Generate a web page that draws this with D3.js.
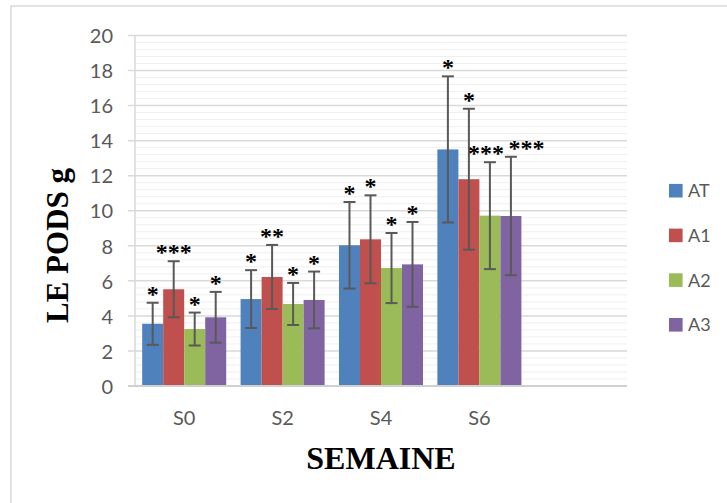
<!DOCTYPE html>
<html>
<head>
<meta charset="utf-8">
<script src="https://cdn.jsdelivr.net/npm/d3@7"></script>
<style>
  html, body { margin: 0; padding: 0; background: #fff; }
  svg { display: block; }
</style>
</head>
<body>
<script>
// ---- data ----
const categories = ["S0", "S2", "S4", "S6", ""];
const seriesNames = ["AT", "A1", "A2", "A3"];
const colors = ["#4F81BD", "#C0504D", "#9BBB59", "#8064A2"];
const AT = [3.55, 4.96, 8.03, 13.5];
const A1 = [5.52, 6.22, 8.37, 11.8];
const A2 = [3.25, 4.68, 6.73, 9.72];
const A3 = [3.92, 4.91, 6.94, 9.70];
const AT_sd = [1.20, 1.65, 2.47, 4.17];
const A1_sd = [1.60, 1.83, 2.51, 4.02];
const A2_sd = [0.94, 1.20, 2.00, 3.05];
const A3_sd = [1.45, 1.62, 2.42, 3.38];
const AT_sig = ["*", "*", "*", "*"];
const A1_sig = ["***", "**", "*", "*"];
const A2_sig = ["*", "*", "*", "***"];
const A3_sig = ["*", "*", "*", "***"];
const yTicks = [0, 2, 4, 6, 8, 10, 12, 14, 16, 18, 20];
const yTitle = "LE PODS g";
const xTitle = "SEMAINE";

const means = [AT, A1, A2, A3];
const sds = [AT_sd, A1_sd, A2_sd, A3_sd];
const sigs = [AT_sig, A1_sig, A2_sig, A3_sig];

const W = 727, H = 503;
const svg = d3.select("body").append("svg").attr("width", W).attr("height", H);

// chart border (only top and left visible)
svg.append("rect").attr("x", 11).attr("y", 6).attr("width", W + 10).attr("height", H + 10)
  .attr("fill", "none").attr("stroke", "#d9d9d9").attr("stroke-width", 1.5);

const plotL = 135, plotR = 627, plotT = 35.5, plotB = 386;

const x = d3.scaleBand().domain(categories).range([plotL, plotR])
  .paddingInner(0.146).paddingOuter(0.073);
const xs = d3.scaleBand().domain(seriesNames).range([0, x.bandwidth()]);
const y = d3.scaleLinear().domain([0, 20]).range([plotB, plotT]);

// minor gridlines
const minor = d3.range(0, 20.001, 0.4).filter(v => Math.abs(v / 2 - Math.round(v / 2)) > 1e-6);
svg.append("g").selectAll("line").data(minor).join("line")
  .attr("x1", plotL).attr("x2", plotR)
  .attr("y1", d => y(d)).attr("y2", d => y(d))
  .attr("stroke", "#efefef").attr("stroke-width", 1);

// major gridlines
svg.append("g").selectAll("line").data(yTicks.filter(d => d > 0)).join("line")
  .attr("x1", plotL - 7).attr("x2", plotR)
  .attr("y1", d => y(d)).attr("y2", d => y(d))
  .attr("stroke", "#d9d9d9").attr("stroke-width", 1.5);

// y axis line
svg.append("line").attr("x1", plotL).attr("x2", plotL).attr("y1", y(20)).attr("y2", plotB)
  .attr("stroke", "#d9d9d9").attr("stroke-width", 1.5);

// y tick labels via axis
const yAxis = d3.axisLeft(y).tickValues(yTicks).tickSize(0).tickPadding(0).tickFormat(d3.format("d"));
const ya = svg.append("g").attr("transform", `translate(${113},0)`).call(yAxis);
ya.select(".domain").remove();
ya.selectAll("text").attr("font-family", "Lato, 'Open Sans', sans-serif").attr("font-size", 20)
  .attr("fill", "#595959").attr("x", 0).attr("dy", "0.36em");

// bars
seriesNames.forEach((s, si) => {
  const g = svg.append("g");
  const data = means[si].map((v, i) => ({ cat: categories[i], v }));
  g.selectAll("rect").data(data).join("rect")
    .attr("x", d => x(d.cat) + xs(s))
    .attr("y", d => y(d.v))
    .attr("width", xs.bandwidth())
    .attr("height", d => y(0) - y(d.v))
    .attr("fill", colors[si]);
});

// x axis line
svg.append("line").attr("x1", plotL - 7).attr("x2", plotR).attr("y1", plotB).attr("y2", plotB)
  .attr("stroke", "#d0d0d0").attr("stroke-width", 2);

// error bars
const labels = [];
seriesNames.forEach((s, si) => {
  const g = svg.append("g");
  const data = means[si].map((v, i) => ({ cat: categories[i], ci: i, si, v, sd: sds[si][i], sig: sigs[si][i] }));
  const cx = d => x(d.cat) + xs(s) + xs.bandwidth() / 2;
  data.forEach(d => labels.push({ ...d, cx: cx(d), y: y(d.v + d.sd) }));
  g.selectAll("line.v").data(data).join("line").attr("class", "v")
    .attr("x1", cx).attr("x2", cx)
    .attr("y1", d => y(d.v + d.sd)).attr("y2", d => y(d.v - d.sd))
    .attr("stroke", "#595959").attr("stroke-width", 2);
  g.selectAll("line.t").data(data).join("line").attr("class", "t")
    .attr("x1", d => cx(d) - 6).attr("x2", d => cx(d) + 6)
    .attr("y1", d => y(d.v + d.sd)).attr("y2", d => y(d.v + d.sd))
    .attr("stroke", "#595959").attr("stroke-width", 2);
  g.selectAll("line.b").data(data).join("line").attr("class", "b")
    .attr("x1", d => cx(d) - 6).attr("x2", d => cx(d) + 6)
    .attr("y1", d => y(d.v - d.sd)).attr("y2", d => y(d.v - d.sd))
    .attr("stroke", "#595959").attr("stroke-width", 2);
});

// significance labels, nudged apart horizontally when neighbours collide
const starW = 11.5;
labels.sort((a, b) => a.ci - b.ci || a.si - b.si);
for (let i = 1; i < labels.length; i++) {
  const a = labels[i - 1], b = labels[i];
  if (a.ci !== b.ci) continue;
  const need = (a.sig.length + b.sig.length) * starW / 2 + 6;
  if (Math.abs(a.y - b.y) < 16 && b.cx - a.cx < need) {
    const over = need - (b.cx - a.cx);
    a.cx -= over * 0.2;
    b.cx += over * 0.8;
  }
}
svg.append("g").selectAll("text").data(labels).join("text")
  .attr("x", d => d.cx)
  .attr("y", d => d.y - 1)
  .attr("text-anchor", "middle")
  .attr("font-family", "'Liberation Serif', 'Times New Roman', serif")
  .attr("font-weight", "bold").attr("font-size", 24).attr("fill", "#000")
  .text(d => d.sig);

// category labels
const xAxis = d3.axisBottom(x).tickSize(0).tickPadding(0);
const xa = svg.append("g").attr("transform", `translate(0,${plotB})`).call(xAxis);
xa.select(".domain").remove();
xa.selectAll("text").attr("font-family", "Lato, 'Open Sans', sans-serif").attr("font-size", 20)
  .attr("fill", "#595959").attr("dy", null).attr("y", 39);

// axis titles
svg.append("text").attr("x", 381).attr("y", 469).attr("text-anchor", "middle")
  .attr("font-family", "'Liberation Serif', 'Times New Roman', serif").attr("font-weight", "bold")
  .attr("font-size", 32).attr("fill", "#000").text(xTitle);
svg.append("text").attr("transform", "translate(68,245.5) rotate(-90)").attr("text-anchor", "middle")
  .attr("font-family", "'Liberation Serif', 'Times New Roman', serif").attr("font-weight", "bold")
  .attr("font-size", 31).attr("fill", "#000").text(yTitle);

// legend
const leg = svg.append("g").selectAll("g").data(seriesNames).join("g")
  .attr("transform", (d, i) => `translate(669,${190.7 + i * 44.7})`);
leg.append("rect").attr("x", 0).attr("y", -6.8).attr("width", 13.6).attr("height", 13.6)
  .attr("fill", (d, i) => colors[i]);
leg.append("text").attr("x", 19).attr("y", 0).attr("dy", "0.36em")
  .attr("font-family", "Lato, 'Open Sans', sans-serif").attr("font-size", 18).attr("fill", "#595959")
  .text(d => d);
</script>
</body>
</html>
